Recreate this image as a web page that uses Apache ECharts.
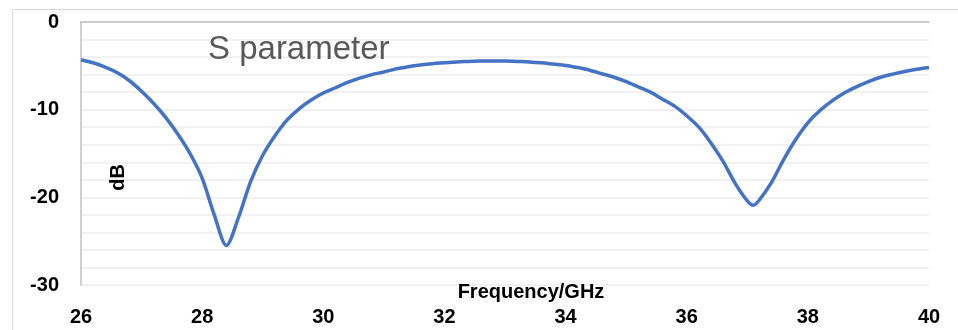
<!DOCTYPE html>
<html>
<head>
<meta charset="utf-8">
<script src="https://cdn.jsdelivr.net/npm/echarts@6/dist/echarts.min.js"></script>
<style>html,body{margin:0;padding:0;background:#fff;}#c{width:958px;height:330px;}</style>
</head>
<body>
<div id="c"></div>
<script>
const freq = [26.0, 26.2, 26.4, 26.6, 26.8, 27.0, 27.2, 27.4, 27.6, 27.8, 28.0, 28.2, 28.4, 28.6, 28.8, 29.0, 29.2, 29.4, 29.6, 29.8, 30.0, 30.2, 30.4, 30.6, 30.8, 31.0, 31.2, 31.4, 31.6, 31.8, 32.0, 32.2, 32.4, 32.6, 32.8, 33.0, 33.2, 33.4, 33.6, 33.8, 34.0, 34.2, 34.4, 34.6, 34.8, 35.0, 35.2, 35.4, 35.6, 35.8, 36.0, 36.2, 36.4, 36.6, 36.8, 37.0, 37.1, 37.2, 37.4, 37.6, 37.8, 38.0, 38.2, 38.4, 38.6, 38.8, 39.0, 39.2, 39.4, 39.6, 39.8, 40.0];
const sParam = [-4.3, -4.65, -5.15, -5.8, -6.7, -7.9, -9.3, -10.9, -12.8, -15.0, -17.8, -22.0, -25.5, -22.3, -18.2, -15.2, -13.0, -11.2, -9.9, -8.9, -8.1, -7.5, -6.9, -6.4, -6.0, -5.7, -5.35, -5.1, -4.9, -4.75, -4.65, -4.55, -4.5, -4.45, -4.45, -4.45, -4.5, -4.55, -4.65, -4.8, -4.95, -5.2, -5.5, -5.9, -6.3, -6.8, -7.4, -8.0, -8.8, -9.6, -10.7, -12.0, -13.8, -15.9, -18.4, -20.4, -20.9, -20.3, -18.3, -15.7, -13.4, -11.5, -10.1, -9.0, -8.1, -7.4, -6.8, -6.3, -5.95, -5.65, -5.4, -5.2];
const xTicks = [26, 28, 30, 32, 34, 36, 38, 40];
const yTicks = [0, -10, -20, -30];

const chart = echarts.init(document.getElementById('c'), null, {renderer: 'canvas'});
const font = 'Liberation Sans';
chart.setOption({
  animation: false,
  backgroundColor: '#fff',
  title: {
    text: 'S parameter', left: 203, top: 28,
    textStyle: {fontFamily: font, fontSize: 33, fontWeight: 'normal', color: '#595959'}
  },
  graphic: [{
    type: 'rect', left: 10, top: 7, shape: {width: 960, height: 340},
    style: {fill: 'none', stroke: '#d9d9d9', lineWidth: 1}, z: -10
  }],
  grid: {left: 81, right: 29, top: 22, bottom: 45, containLabel: false, outerBoundsMode: 'none'},
  xAxis: [{
    type: 'value', min: 26, max: 40, interval: 2, position: 'bottom',
    name: 'Frequency/GHz', nameLocation: 'middle', nameGap: -3, nameMoveOverlap: false,
    nameTextStyle: {fontFamily: font, fontSize: 20, fontWeight: 'bold', color: '#000', padding: [0, 0, 0, 52]},
    axisLine: {show: false}, axisTick: {show: false}, splitLine: {show: false},
    axisLabel: {
      margin: 22, fontFamily: font, fontSize: 20, fontWeight: 'bold', color: '#000',
      formatter: v => xTicks.includes(v) ? String(v) : ''
    }
  }, {
    type: 'value', min: 26, max: 40, interval: 2, position: 'top',
    axisLine: {show: true, onZero: false, lineStyle: {color: '#bfbfbf', width: 1.5}},
    axisTick: {show: false}, axisLabel: {show: false}, splitLine: {show: false}
  }],
  yAxis: {
    type: 'value', min: -30, max: 0, interval: 2,
    name: 'dB', nameLocation: 'middle', nameRotate: 90, nameGap: -47, nameMoveOverlap: false,
    nameTextStyle: {fontFamily: font, fontSize: 20, fontWeight: 'bold', color: '#000', padding: [0, 48, 0, 0]},
    axisLine: {show: true, lineStyle: {color: '#bfbfbf', width: 1.5}},
    axisTick: {show: false},
    splitLine: {show: true, lineStyle: {color: '#ececec', width: 1.5}},
    axisLabel: {
      margin: 22, fontFamily: font, fontSize: 20, fontWeight: 'bold', color: '#000',
      formatter: v => yTicks.includes(v) ? String(v) : ''
    }
  },
  series: [{
    type: 'line', xAxisIndex: 0, smooth: 0.3, showSymbol: false, symbol: 'none',
    lineStyle: {color: '#4472C4', width: 3.5},
    data: freq.map((f, i) => [f, sParam[i]])
  }]
});
</script>
</body>
</html>
